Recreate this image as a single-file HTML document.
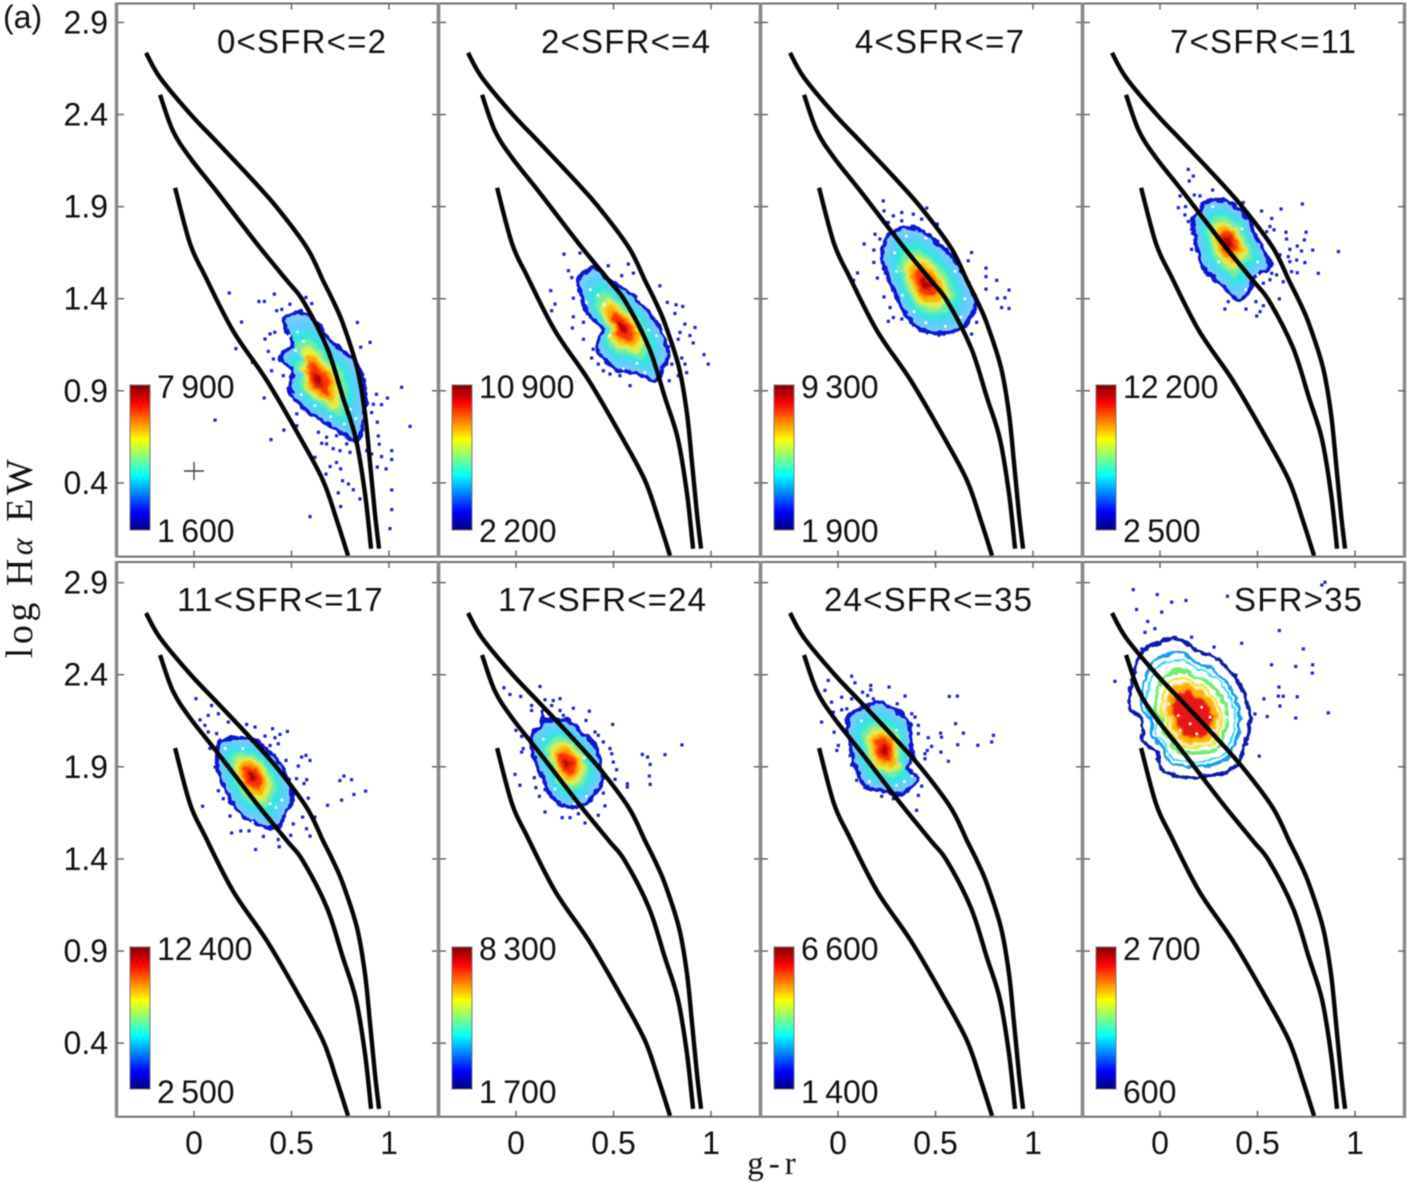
<!DOCTYPE html>
<html lang="en">
<head>
<meta charset="utf-8">
<title>log H-alpha EW vs g-r colour by SFR bin</title>
<style>
html,body{margin:0;padding:0;background:#fff;}
body{width:1409px;height:1185px;overflow:hidden;}
svg{display:block;filter:blur(0.45px);}
text{font-family:"Liberation Sans",sans-serif;fill:#111;}
.serif{font-family:"Liberation Serif",serif;}
</style>
</head>
<body>
<svg id="chart" xmlns="http://www.w3.org/2000/svg" width="1409" height="1185" viewBox="0 0 1409 1185">
  <defs>
    <linearGradient id="jet" x1="0" y1="1" x2="0" y2="0">
      <stop offset="0" stop-color="#000080"/>
      <stop offset="0.125" stop-color="#0000ff"/>
      <stop offset="0.375" stop-color="#00ffff"/>
      <stop offset="0.625" stop-color="#ffff00"/>
      <stop offset="0.875" stop-color="#ff0000"/>
      <stop offset="1" stop-color="#800000"/>
    </linearGradient>
    <filter id="soft" x="-10%" y="-10%" width="120%" height="120%"><feGaussianBlur stdDeviation="1.3"/></filter>
    <filter id="rough" x="-10%" y="-10%" width="120%" height="120%"><feTurbulence type="fractalNoise" baseFrequency="0.14" numOctaves="2" seed="4" result="n"/><feDisplacementMap in="SourceGraphic" in2="n" scale="6" xChannelSelector="R" yChannelSelector="G"/></filter>
  </defs>
  <rect width="1409" height="1185" fill="#fff"/>
  <text x="3" y="28" font-size="32">(a)</text>
  <text x="774" y="1174" font-size="33" text-anchor="middle" letter-spacing="5" class="serif">g-r</text>
  <text transform="translate(32,557) rotate(-90)" font-size="38" text-anchor="middle" letter-spacing="3.5" class="serif">log H<tspan font-style="italic" font-size="32">α</tspan> EW</text>
</svg>
<script>
const xTicks = [0, 0.5, 1];
const yTicks = [0.4, 0.9, 1.4, 1.9, 2.4, 2.9];
const xTickLabels = ['0', '0.5', '1'];
const yTickLabels = ['0.4', '0.9', '1.4', '1.9', '2.4', '2.9'];

const panelTitles = ['0<SFR<=2', '2<SFR<=4', '4<SFR<=7', '7<SFR<=11', '11<SFR<=17', '17<SFR<=24', '24<SFR<=35', 'SFR>35'];
const colorbarMax = ['7\u2009900', '10\u2009900', '9\u2009300', '12\u2009200', '12\u2009400', '8\u2009300', '6\u2009600', '2\u2009700'];
const colorbarMin = ['1\u2009600', '2\u2009200', '1\u2009900', '2\u2009500', '2\u2009500', '1\u2009700', '1\u2009400', '600'];

const curveUpper = [[-0.246,2.735],[-0.174,2.60],[-0.02,2.404],[0.118,2.25],[0.287,2.06],[0.426,1.894],[0.579,1.677],[0.662,1.498],[0.713,1.389],[0.764,1.264],[0.836,1.026],[0.877,0.776],[0.903,0.505],[0.928,0.233],[0.949,0.043]];
const curveMiddle = [[-0.174,2.507],[-0.108,2.311],[-0.02,2.165],[0.118,1.98],[0.323,1.698],[0.477,1.498],[0.559,1.389],[0.682,1.134],[0.764,0.863],[0.83,0.64],[0.877,0.342],[0.908,0.043]];
const curveLower = [[-0.097,2.002],[-0.02,1.698],[0.056,1.525],[0.2,1.226],[0.374,0.955],[0.544,0.646],[0.662,0.412],[0.733,0.195],[0.79,0.005]];

const contour0 = [[0.456,1.28],[0.554,1.324],[0.631,1.264],[0.713,1.156],[0.836,1.047],[0.877,0.884],[0.867,0.722],[0.836,0.629],[0.764,0.667],[0.682,0.722],[0.579,0.792],[0.492,0.901],[0.503,1.009],[0.44,1.08],[0.503,1.156]];
const contour1 = [[0.344,1.536],[0.405,1.568],[0.482,1.498],[0.585,1.427],[0.703,1.297],[0.779,1.118],[0.754,1.026],[0.713,0.955],[0.621,0.993],[0.497,1.026],[0.415,1.134],[0.441,1.243],[0.369,1.318],[0.318,1.481]];
const contour2 = [[0.282,1.769],[0.405,1.78],[0.538,1.677],[0.626,1.568],[0.703,1.389],[0.677,1.297],[0.61,1.226],[0.472,1.215],[0.369,1.281],[0.303,1.405],[0.231,1.59],[0.231,1.677]];
const contour3 = [[0.231,1.925],[0.318,1.936],[0.395,1.892],[0.462,1.827],[0.477,1.773],[0.538,1.648],[0.564,1.572],[0.477,1.512],[0.462,1.447],[0.4,1.393],[0.318,1.474],[0.231,1.556],[0.19,1.681],[0.169,1.827],[0.205,1.881]];
const contour4 = [[0.144,2.043],[0.272,2.054],[0.39,1.978],[0.477,1.843],[0.503,1.718],[0.467,1.647],[0.426,1.566],[0.323,1.593],[0.236,1.647],[0.169,1.755],[0.123,1.88],[0.123,1.989]];
const contour5 = [[0.133,2.195],[0.149,2.152],[0.262,2.152],[0.344,2.081],[0.405,2.016],[0.431,1.935],[0.446,1.826],[0.405,1.755],[0.369,1.707],[0.287,1.68],[0.19,1.728],[0.138,1.842],[0.082,1.988],[0.087,2.086],[0.133,2.125]];
const contour6 = [[0.072,2.195],[0.123,2.222],[0.215,2.249],[0.267,2.222],[0.359,2.152],[0.369,2.043],[0.385,1.951],[0.359,1.891],[0.405,1.842],[0.379,1.788],[0.308,1.751],[0.226,1.772],[0.138,1.8],[0.087,1.908],[0.051,2.081],[0.051,2.152]];
const contour7 = [[-0.051,2.557],[0.087,2.595],[0.19,2.53],[0.292,2.486],[0.41,2.35],[0.462,2.167],[0.426,1.988],[0.359,1.88],[0.154,1.842],[0.015,1.88],[-0.015,1.972],[-0.087,2.042],[-0.092,2.151],[-0.154,2.232],[-0.138,2.385],[-0.103,2.493]];

const densityPeak0 = [0.63, 0.96];
const densityPeak1 = [0.544, 1.243];
const densityPeak2 = [0.446, 1.481];
const densityPeak3 = [0.349, 1.708];
const densityPeak4 = [0.297, 1.854];
const densityPeak5 = [0.262, 1.919];
const densityPeak6 = [0.241, 1.989];
const densityPeak7 = [0.169, 2.168];

const scatter0 = [[0.181,1.431],[0.333,1.385],[0.361,1.385],[0.412,1.425],[0.244,1.273],[0.215,1.129],[0.364,1.181],[0.39,1.209],[0.414,1.218],[0.381,1.114],[0.3,1.054],[0.398,1.009],[0.36,0.861],[0.108,0.741],[0.395,0.635],[0.461,0.687],[0.595,0.217],[1.065,0.919],[1.108,0.707],[0.838,1.271],[0.903,1.163],[0.855,1.137],[0.574,1.407],[0.604,1.374],[0.492,1.37],[0.424,1.335],[0.45,1.342],[0.992,0.861],[0.962,0.825],[0.936,0.881],[0.92,0.827],[0.911,0.782],[0.94,0.73],[0.945,0.655],[0.95,0.61],[0.962,0.543],[1.014,0.575],[1.014,0.527],[0.985,0.476],[0.94,0.486],[0.911,0.557],[0.886,0.575],[1.014,0.362],[1.014,0.255],[1.005,0.152],[0.851,0.313],[0.817,0.363],[0.792,0.394],[0.762,0.412],[0.752,0.476],[0.698,0.489],[0.731,0.511],[0.677,0.448],[0.74,0.346],[0.752,0.272],[0.62,0.539],[0.655,0.615],[0.68,0.612],[0.714,0.586],[0.749,0.575],[0.783,0.612],[0.8,0.566],[0.638,0.675],[0.68,0.648],[0.731,0.656],[0.527,0.775],[0.527,0.71],[0.458,0.982],[0.407,1.073]];
const scatter1 = [[0.246,1.642],[0.328,1.648],[0.269,1.552],[0.286,1.515],[0.178,1.444],[0.2,1.371],[0.183,1.335],[0.294,1.403],[0.294,1.302],[0.289,1.241],[0.346,1.272],[0.346,1.18],[0.396,1.126],[0.388,1.078],[0.422,1.045],[0.448,1.009],[0.482,0.991],[0.533,0.982],[0.585,0.928],[0.576,1.588],[0.602,1.539],[0.542,1.525],[0.738,1.47],[0.776,1.38],[0.821,1.367],[0.855,1.358],[0.815,1.32],[0.866,1.262],[0.918,1.244],[0.892,1.2],[0.841,1.217],[0.909,1.16],[0.832,1.18],[0.964,1.096],[0.986,1.045],[0.85,1.078],[0.867,1.045],[0.875,0.999],[0.832,0.982],[0.786,0.955],[0.799,1.045],[0.473,1.579]];
const scatter2 = [[0.232,1.931],[0.455,1.892],[0.236,1.877],[0.284,1.85],[0.327,1.868],[0.386,1.859],[0.429,1.832],[0.509,1.805],[0.258,1.814],[0.327,1.823],[0.19,1.75],[0.215,1.724],[0.134,1.697],[0.184,1.664],[0.184,1.597],[0.202,1.512],[0.236,1.41],[0.267,1.352],[0.284,1.298],[0.327,1.29],[0.258,1.277],[0.685,1.651],[0.668,1.606],[0.759,1.566],[0.759,1.52],[0.814,1.5],[0.759,1.452],[0.877,1.447],[0.817,1.402],[0.839,1.352],[0.877,1.347],[0.711,1.272],[0.685,1.208],[0.08,1.5],[0.1,1.54],[0.856,1.405]];
const scatter3 = [[0.145,2.102],[0.171,2.066],[0.15,2.039],[0.27,1.99],[0.103,1.958],[0.176,1.963],[0.205,1.958],[0.094,1.894],[0.131,1.9],[0.128,1.855],[0.145,1.819],[0.162,1.777],[0.162,1.668],[0.179,1.7],[0.222,1.6],[0.333,1.344],[0.35,1.384],[0.441,1.344],[0.492,1.384],[0.53,1.362],[0.513,1.33],[0.496,1.306],[0.612,1.399],[0.427,1.922],[0.521,1.876],[0.621,1.887],[0.73,1.914],[0.573,1.836],[0.564,1.792],[0.585,1.774],[0.547,1.764],[0.646,1.761],[0.749,1.761],[0.649,1.724],[0.74,1.719],[0.704,1.686],[0.666,1.668],[0.726,1.659],[0.783,1.664],[0.915,1.656],[0.658,1.628],[0.615,1.638],[0.701,1.61],[0.666,1.601],[0.743,1.596],[0.675,1.547],[0.704,1.541],[0.812,1.538],[0.573,1.538],[0.632,1.492],[0.598,1.529],[0.564,1.503],[0.53,1.484]];
const scatter4 = [[0.01,2.27],[0.09,2.233],[0.073,2.179],[0.125,2.188],[0.031,2.155],[0.176,2.143],[0.27,2.13],[0.313,2.116],[0.403,2.107],[0.479,2.092],[0.441,2.076],[0.364,2.067],[0.415,2.058],[0.432,2.025],[0.39,2.016],[0.056,2.125],[0.073,2.089],[0.116,2.08],[0.082,2.0],[0.108,1.899],[0.125,1.77],[0.15,1.727],[0.044,1.686],[0.185,1.633],[0.193,1.541],[0.24,1.552],[0.282,1.552],[0.356,1.522],[0.316,1.451],[0.437,1.466],[0.432,1.505],[0.496,1.528],[0.577,1.564],[0.595,1.524],[0.509,1.59],[0.557,1.627],[0.62,1.627],[0.586,1.73],[0.526,1.836],[0.578,1.83],[0.564,1.809],[0.535,1.904],[0.552,1.953],[0.574,1.962],[0.595,1.935],[0.472,1.935],[0.685,1.691],[0.757,1.719],[0.748,1.825],[0.769,1.85],[0.808,1.83],[0.82,1.75],[0.88,1.768]];
const scatter5 = [[-0.062,2.329],[-0.031,2.293],[0.024,2.282],[0.123,2.336],[0.08,2.233],[0.08,2.206],[0.149,2.264],[0.191,2.26],[0.226,2.27],[0.183,2.233],[0.294,2.218],[0.226,2.206],[0.243,2.179],[0.376,2.202],[0.359,2.152],[0.496,2.13],[0.405,2.089],[0.422,2.071],[0.448,2.035],[0.482,1.999],[0.491,1.971],[0,2.098],[0.029,2.065],[0.037,1.999],[0.029,1.98],[-0.005,1.859],[0.02,1.8],[0.094,1.841],[0.102,1.787],[0.12,1.74],[0.149,1.776],[0.149,1.655],[0.237,1.624],[0.277,1.624],[0.32,1.645],[0.354,1.595],[0.422,1.637],[0.456,1.688],[0.448,1.757],[0.499,1.926],[0.516,1.884],[0.508,1.832],[0.571,1.808],[0.571,1.79],[0.648,1.967],[0.675,1.953],[0.688,1.913],[0.684,1.85],[0.688,1.805],[0.764,1.966],[0.851,2.019]];
const scatter6 = [[0.07,2.392],[-0.05,2.369],[0.087,2.356],[-0.067,2.315],[0.168,2.342],[0.168,2.318],[0.262,2.333],[0.126,2.305],[0.152,2.287],[0.344,2.284],[0.571,2.282],[0.612,2.284],[0.019,2.278],[0.07,2.269],[0.181,2.269],[-0.033,2.251],[0.304,2.242],[0.019,2.209],[0.045,2.215],[-0.024,2.197],[-0.084,2.143],[-0.02,2.088],[0.378,2.188],[0.395,2.17],[0.412,2.125],[0.412,2.08],[0.603,2.134],[0.526,2.083],[0.531,2.061],[0.643,2.083],[0.463,2.058],[0.797,2.071],[0.788,2.035],[0.717,2.017],[0.614,2.02],[0.48,2.011],[0.458,1.989],[0.528,1.98],[0.446,1.971],[0.446,1.944],[0.566,1.93],[0.002,2.016],[-0.006,1.989],[0.062,1.961],[0.07,1.91],[0.429,1.795],[0.412,1.745],[0.403,1.664],[0.224,1.74],[0.284,1.727],[0.138,1.787],[0.096,1.827]];
const scatter7 = [[-0.137,2.862],[-0.014,2.835],[0.06,2.794],[0.133,2.803],[-0.12,2.754],[0.009,2.74],[0.846,2.902],[0.346,2.826],[-0.063,2.689],[-0.026,2.65],[-0.077,2.63],[-0.094,2.54],[-0.231,2.364],[0.162,2.604],[0.277,2.55],[0.419,2.571],[0.612,2.64],[0.735,2.54],[0.572,2.454],[0.696,2.445],[0.783,2.454],[0.781,2.409],[0.61,2.333],[0.607,2.284],[0.632,2.283],[0.704,2.28],[0.533,2.269],[0.615,2.23],[0.55,2.173],[0.696,2.165],[0.863,2.193],[0.487,2.187],[0.509,1.958],[0.83,2.887]];

const flecks0 = [[0.49,1.2],[0.53,1.22],[0.56,1.17],[0.52,1.12],[0.48,1.0],[0.8,0.8],[0.83,0.75],[0.77,0.72],[0.7,0.76],[0.62,0.82],[0.55,0.88]];
const flecks1 = [[0.38,1.45],[0.42,1.42],[0.36,1.38],[0.45,1.37],[0.72,1.2],[0.68,1.23],[0.62,1.05],[0.55,1.02],[0.66,1.0],[0.48,1.2]];
const flecks2 = [[0.29,1.65],[0.3,1.55],[0.33,1.42],[0.39,1.33],[0.45,1.27],[0.55,1.25],[0.63,1.3],[0.65,1.4],[0.6,1.55],[0.45,1.73],[0.35,1.74]];
const flecks3 = [[0.22,1.85],[0.27,1.9],[0.42,1.78],[0.5,1.6],[0.5,1.53],[0.44,1.45],[0.3,1.6]];
const flecks4 = [[0.16,2.0],[0.25,2.0],[0.45,1.72],[0.42,1.68],[0.39,1.7],[0.3,1.6]];
const flecks5 = [[0.14,2.05],[0.35,1.95],[0.36,1.74],[0.3,1.7],[0.2,1.78]];
const flecks6 = [[0.38,1.85],[0.34,1.82],[0.3,1.8],[0.12,2.15],[0.3,2.1],[0.16,1.82]];
const flecks7 = [[0.213,2.224],[0.094,2.179],[0.154,2.134],[0.103,2.098],[0.188,2.08],[0.128,2.233],[0.256,2.17],[0.043,2.242],[0.06,2.06],[0.273,2.098],[0.035,1.97],[0.188,1.953],[0.282,2.007],[0.342,2.17],[0.12,2.37],[0,2.33]];

const contours = [contour0, contour1, contour2, contour3, contour4, contour5, contour6, contour7];
const densityPeaks = [densityPeak0, densityPeak1, densityPeak2, densityPeak3, densityPeak4, densityPeak5, densityPeak6, densityPeak7];
const scatters = [scatter0, scatter1, scatter2, scatter3, scatter4, scatter5, scatter6, scatter7];
const flecks = [flecks0, flecks1, flecks2, flecks3, flecks4, flecks5, flecks6, flecks7];

const filledLevels = [[1,'#7ccaff'],[0.88,'#58d0fb'],[0.74,'#30e6e0'],[0.6,'#74ee9a'],[0.48,'#e4f040'],[0.38,'#ffb000'],[0.27,'#ff3000'],[0.12,'#b80000']];
const openLevels = [[0.82,'#1f9df0',3],[0.74,'#36dcf0',2],[0.6,'#70ee70',4],[0.5,'#e8ee40',3]];
const coreLevels = [[0.44,'#ffb000'],[0.33,'#e81515']];
const titleStart = [217, 541, 855, 1170, 177, 498, 824, 1234];

const SVGNS = 'http://www.w3.org/2000/svg';
const svg = document.getElementById('chart');
const PANEL_W = 322, LEFT = 116, ZERO_OFFSET = 78, PX_PER_X = 195, PX_PER_Y = 184.2;
const ROW_TOP = [3.5, 562], ROW_BOTTOM = [556.6, 1116.8];

function xScale(col, v) { return LEFT + col * PANEL_W + ZERO_OFFSET + v * PX_PER_X; }
function yScale(row, v) { return ROW_BOTTOM[row] - v * PX_PER_Y; }
function make(tag, attrs, parent) {
  const n = document.createElementNS(SVGNS, tag);
  for (const k in attrs) n.setAttribute(k, attrs[k]);
  parent.appendChild(n);
  return n;
}
function splinePath(pts, closed) {
  const n = pts.length;
  function at(i) {
    if (closed) return pts[(i + n) % n];
    return pts[Math.max(0, Math.min(n - 1, i))];
  }
  let d = 'M' + pts[0][0] + ' ' + pts[0][1];
  const segs = closed ? n : n - 1;
  for (let i = 0; i < segs; i++) {
    const p0 = at(i - 1), p1 = at(i), p2 = at(i + 1), p3 = at(i + 2);
    d += 'C' + (p1[0] + (p2[0] - p0[0]) / 6) + ' ' + (p1[1] + (p2[1] - p0[1]) / 6) + ' ' +
         (p2[0] - (p3[0] - p1[0]) / 6) + ' ' + (p2[1] - (p3[1] - p1[1]) / 6) + ' ' + p2[0] + ' ' + p2[1];
  }
  return closed ? d + 'Z' : d;
}
function contourPixels(p, col, row, scale) {
  const peak = densityPeaks[p];
  return contours[p].map(function (c) {
    return [xScale(col, peak[0] + (c[0] - peak[0]) * scale), yScale(row, peak[1] + (c[1] - peak[1]) * scale)];
  });
}

for (let p = 0; p < 8; p++) {
  const col = p % 4;
  const row = Math.floor(p / 4);
  const left = LEFT + col * PANEL_W;
  const top = ROW_TOP[row];
  const bottom = ROW_BOTTOM[row];

  const group = make('g', {}, svg);
  
  

  const scatterGroup = make('g', { fill: '#1a22d0' }, group);
  
  
  scatters[p].forEach(function (pt) {
    const dot = make('rect', { x: xScale(col, pt[0]) - 1.6, y: yScale(row, pt[1]) - 1.6, width: 3.2, height: 3.2 }, scatterGroup);
    
    
  });

  const density = make('g', { filter: 'url(#rough)' }, group);
  
  

  if (p === 7) {
    const outer = make('path', { d: splinePath(contourPixels(p, col, row, 1), true), fill: '#fff', stroke: '#0c1ea6', 'stroke-width': 3.6 }, density);
    
    
    openLevels.forEach(function (lev) {
      const ring = make('path', { d: splinePath(contourPixels(p, col, row, lev[0]), true), fill: '#fff', stroke: lev[1], 'stroke-width': lev[2] }, density);
      
      
    });
    coreLevels.forEach(function (lev) {
      const core = make('path', { d: splinePath(contourPixels(p, col, row, lev[0]), true), fill: lev[1], filter: 'url(#soft)' }, density);
      
      
    });
  } else {
    const soft = make('g', { filter: 'url(#soft)' }, density);
    
    
    filledLevels.forEach(function (lev) {
      const fill = make('path', { d: splinePath(contourPixels(p, col, row, lev[0]), true), fill: lev[1] }, soft);
      
      
    });
    const outline = make('path', { d: splinePath(contourPixels(p, col, row, 1), true), fill: 'none', stroke: '#0a14d0', 'stroke-width': 3.8, 'stroke-linejoin': 'round' }, density);
    
    
  }

  const fleckGroup = make('g', { fill: '#fff' }, group);
  
  
  flecks[p].forEach(function (pt) {
    const speck = make('rect', { x: xScale(col, pt[0]) - 1.2, y: yScale(row, pt[1]) - 1.2, width: 2.6, height: 2.6 }, fleckGroup);
    
    
  });

  [curveUpper, curveMiddle, curveLower].forEach(function (curve, ci) {
    const pts = curve.map(function (c) { return [xScale(col, c[0]), yScale(row, c[1])]; });
    const line = make('path', { d: splinePath(pts, false), fill: 'none', stroke: '#050505', 'stroke-width': 4.4 }, group);
    
    
  });

  const frameTop = make('line', { x1: left, x2: left + PANEL_W + 2, y1: top, y2: top, stroke: '#6e6e6e', 'stroke-width': 2 }, group);
  
  
  const frameBottom = make('line', { x1: left, x2: left + PANEL_W + 2, y1: bottom, y2: bottom, stroke: '#6e6e6e', 'stroke-width': 2 }, group);
  
  
  const frameLeft = make('line', { x1: left + 0.5, x2: left + 0.5, y1: top - 1, y2: bottom + 1, stroke: '#888', 'stroke-width': 3.4 }, group);
  
  
  const frameRight = make('line', { x1: left + PANEL_W + 0.5, x2: left + PANEL_W + 0.5, y1: top - 1, y2: bottom + 1, stroke: '#888', 'stroke-width': 3.4 }, group);
  
  

  xTicks.forEach(function (v, i) {
    const x = xScale(col, v);
    const tb = make('line', { x1: x, x2: x, y1: bottom, y2: bottom - 6, stroke: '#666', 'stroke-width': 1.5 }, group);
    
    
    const tt = make('line', { x1: x, x2: x, y1: top, y2: top + 6, stroke: '#666', 'stroke-width': 1.5 }, group);
    
    
    if (row === 1) {
      const lab = make('text', { x: x, y: 1154, 'font-size': 32, 'text-anchor': 'middle' }, group);
      
      
      lab.textContent = xTickLabels[i];
    }
  });
  yTicks.forEach(function (v, i) {
    const y = yScale(row, v);
    const tl = make('line', { x1: left + 1, x2: left + 8, y1: y, y2: y, stroke: '#666', 'stroke-width': 1.5 }, group);
    
    
    const tr = make('line', { x1: left + PANEL_W + 1, x2: left + PANEL_W - 6, y1: y, y2: y, stroke: '#666', 'stroke-width': 1.5 }, group);
    
    
    if (col === 0) {
      const lab = make('text', { x: 108, y: y + 11, 'font-size': 32, 'text-anchor': 'end' }, group);
      
      
      lab.textContent = yTickLabels[i];
    }
  });

  const cbTop = row === 0 ? 385 : 947;
  const cbBottom = row === 0 ? 530 : 1089;
  const bar = make('rect', { x: left + 14, y: cbTop, width: 20, height: cbBottom - cbTop, fill: 'url(#jet)', stroke: '#777', 'stroke-width': 1 }, group);
  
  
  const maxLabel = make('text', { x: left + 41, y: cbTop + 13, 'font-size': 32 }, group);
  
  
  maxLabel.textContent = colorbarMax[p];
  const minLabel = make('text', { x: left + 41, y: cbBottom + (row === 0 ? 12 : 14), 'font-size': 32 }, group);
  
  
  minLabel.textContent = colorbarMin[p];

  const title = make('text', { x: titleStart[p], y: row === 0 ? 53 : 611, 'font-size': 33, 'letter-spacing': 1.2 }, group);
  
  
  title.textContent = panelTitles[p];
}

const errorGroup = make('g', { stroke: '#444', 'stroke-width': 1.4 }, svg);


const errH = make('line', { x1: 184, x2: 204, y1: 471, y2: 471 }, errorGroup);


const errV = make('line', { x1: 194, x2: 194, y1: 462, y2: 480 }, errorGroup);


</script>
</body>
</html>
